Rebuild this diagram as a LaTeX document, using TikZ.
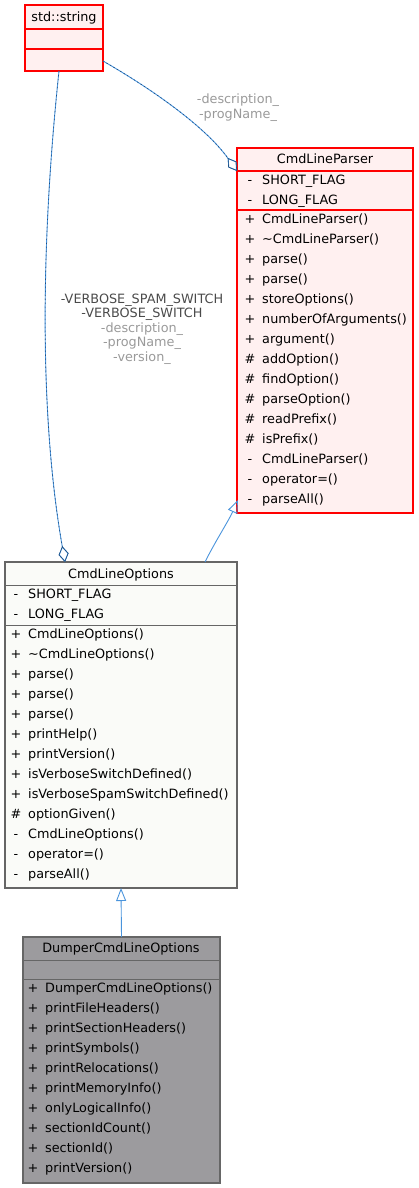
\documentclass[tikz,border=0pt]{standalone}
\usepackage{fontspec}
\setmainfont{DejaVu Sans}
\usetikzlibrary{arrows.meta,calc}
\definecolor{edgeblue}{HTML}{4A94DC}
\definecolor{edgedark}{HTML}{1E4E80}
\definecolor{redfill}{HTML}{FFF0F0}
\definecolor{optfill}{HTML}{FAFBF8}
\definecolor{dumpfill}{HTML}{9C9B9E}
\definecolor{boxgrey}{HTML}{666666}
\definecolor{lbldark}{HTML}{4A4A4A}
\definecolor{lbllight}{HTML}{9A9A9A}
\tikzset{
  redbox/.style={draw=red, line width=1.4pt, fill=redfill, anchor=north west, inner sep=0, outer sep=0},
  optbox/.style={draw=boxgrey, line width=1.1pt, fill=optfill, anchor=north west, inner sep=0, outer sep=0},
  dumpbox/.style={draw=boxgrey, line width=1.1pt, fill=dumpfill, anchor=north west, inner sep=0, outer sep=0},
  redsep/.style={draw=red, line width=1.2pt},
  greysep/.style={draw=boxgrey, line width=1pt},
  row/.style={anchor=west, inner sep=0, text height=9.4pt, text depth=0pt},
  sign/.style={anchor=center, inner sep=0, text height=9.4pt, text depth=0pt},
  title/.style={anchor=center, inner sep=0, text height=9.4pt, text depth=0pt},
  usage/.style={draw=edgeblue, line width=0.9pt, postaction={draw=edgedark, line width=0.6pt, dash pattern=on 1.5pt off 2.5pt}},
  inherit/.style={draw=edgeblue, line width=0.9pt},
  lbl/.style={inner sep=0, align=center}
}
\begin{document}
\begin{tikzpicture}[x=1pt,y=-1pt, font=\fontsize{12.8}{14.5}\selectfont]
\useasboundingbox (0,0) rectangle (418,1188);

% ---------- std::string ----------
\node[redbox, minimum width=78pt, minimum height=66pt] (str) at (25,5) {};
\draw[redsep] ($(str.north west)+(0,24)$) -- ($(str.north east)+(0,24)$);
\draw[redsep] ($(str.north west)+(0,44)$) -- ($(str.north east)+(0,44)$);
\node[title] (strt) at (64,17) {std::string};

% ---------- CmdLineParser ----------
\node[redbox, minimum width=176pt, minimum height=365pt] (parser) at (237,148) {};
\draw[redsep] ($(parser.north west)+(0,23)$) -- ($(parser.north east)+(0,23)$);
\draw[redsep] ($(parser.north west)+(0,62)$) -- ($(parser.north east)+(0,62)$);
\node[title] (parsert) at (325,159) {CmdLineParser};
\foreach \s/\t [count=\i] in {-/SHORT\_FLAG, -/LONG\_FLAG} {
  \node[sign] (pas\i) at (250,160+20*\i) {\s};
  \node[row] (pa\i) at (262,160+20*\i) {\t};
}
\foreach \s/\t [count=\i] in {+/CmdLineParser(), +/\textasciitilde CmdLineParser(), +/parse(), +/parse(),
  +/storeOptions(), +/numberOfArguments(), +/argument(), \#/addOption(), \#/findOption(),
  \#/parseOption(), \#/readPrefix(), \#/isPrefix(), -/CmdLineParser(), -/operator=(), -/parseAll()} {
  \node[sign] (pms\i) at (250,199+20*\i) {\s};
  \node[row] (pm\i) at (262,199+20*\i) {\t};
}

% ---------- CmdLineOptions ----------
\node[optbox, minimum width=232pt, minimum height=326pt] (opt) at (5,562) {};
\draw[greysep] ($(opt.north west)+(0,23)$) -- ($(opt.north east)+(0,23)$);
\draw[greysep] ($(opt.north west)+(0,63)$) -- ($(opt.north east)+(0,63)$);
\node[title] (optt) at (121,574) {CmdLineOptions};
\foreach \s/\t [count=\i] in {-/SHORT\_FLAG, -/LONG\_FLAG} {
  \node[sign] (oas\i) at (16,574+20*\i) {\s};
  \node[row] (oa\i) at (28,574+20*\i) {\t};
}
\foreach \s/\t [count=\i] in {+/CmdLineOptions(), +/\textasciitilde CmdLineOptions(), +/parse(), +/parse(), +/parse(),
  +/printHelp(), +/printVersion(), +/isVerboseSwitchDefined(), +/isVerboseSpamSwitchDefined(),
  \#/optionGiven(), -/CmdLineOptions(), -/operator=(), -/parseAll()} {
  \node[sign] (oms\i) at (16,614+20*\i) {\s};
  \node[row] (om\i) at (28,614+20*\i) {\t};
}

% ---------- DumperCmdLineOptions ----------
\node[dumpbox, minimum width=197pt, minimum height=246pt] (dump) at (23,937) {};
\draw[greysep] ($(dump.north west)+(0,23)$) -- ($(dump.north east)+(0,23)$);
\draw[greysep] ($(dump.north west)+(0,42)$) -- ($(dump.north east)+(0,42)$);
\node[title] (dumpt) at (121,948) {DumperCmdLineOptions};
\foreach \s/\t [count=\i] in {+/DumperCmdLineOptions(), +/printFileHeaders(), +/printSectionHeaders(),
  +/printSymbols(), +/printRelocations(), +/printMemoryInfo(), +/onlyLogicalInfo(),
  +/sectionIdCount(), +/sectionId(), +/printVersion()} {
  \node[sign] (dms\i) at (33,968+20*\i) {\s};
  \node[row] (dm\i) at (45,968+20*\i) {\t};
}

% ---------- connectors ----------
\draw[usage, -{Diamond[open, length=16pt, width=10pt]}]
  ($(str.south)+(-5,0)$) .. controls (40,250) and (40,420) .. ($(opt.north west)+(60,0)$);
\draw[usage, -{Diamond[open, length=16pt, width=10pt]}]
  ($(str.north east)+(0,56)$) .. controls (150,88) and (205,126) .. ($(parser.north west)+(0,23)$);
\draw[inherit, -{Triangle[open, length=13pt, width=10pt]}]
  ($(opt.north west)+(200,0)$) .. controls (216,540) and (228,522) .. ($(parser.south west)+(1,-13)$);
\draw[inherit, -{Triangle[open, length=13pt, width=10pt]}]
  (dump.north) -- (opt.south);

% ---------- labels ----------
\node[lbl, text=lbllight] (lab1) at (238,107.5) {-description\_\\-progName\_};
\node[lbl] (lab2) at (142,329) {\textcolor{lbldark}{-VERBOSE\_SPAM\_SWITCH}\\\textcolor{lbldark}{-VERBOSE\_SWITCH}\\\textcolor{lbllight}{-description\_}\\\textcolor{lbllight}{-progName\_}\\\textcolor{lbllight}{-version\_}};
\end{tikzpicture}
\end{document}
